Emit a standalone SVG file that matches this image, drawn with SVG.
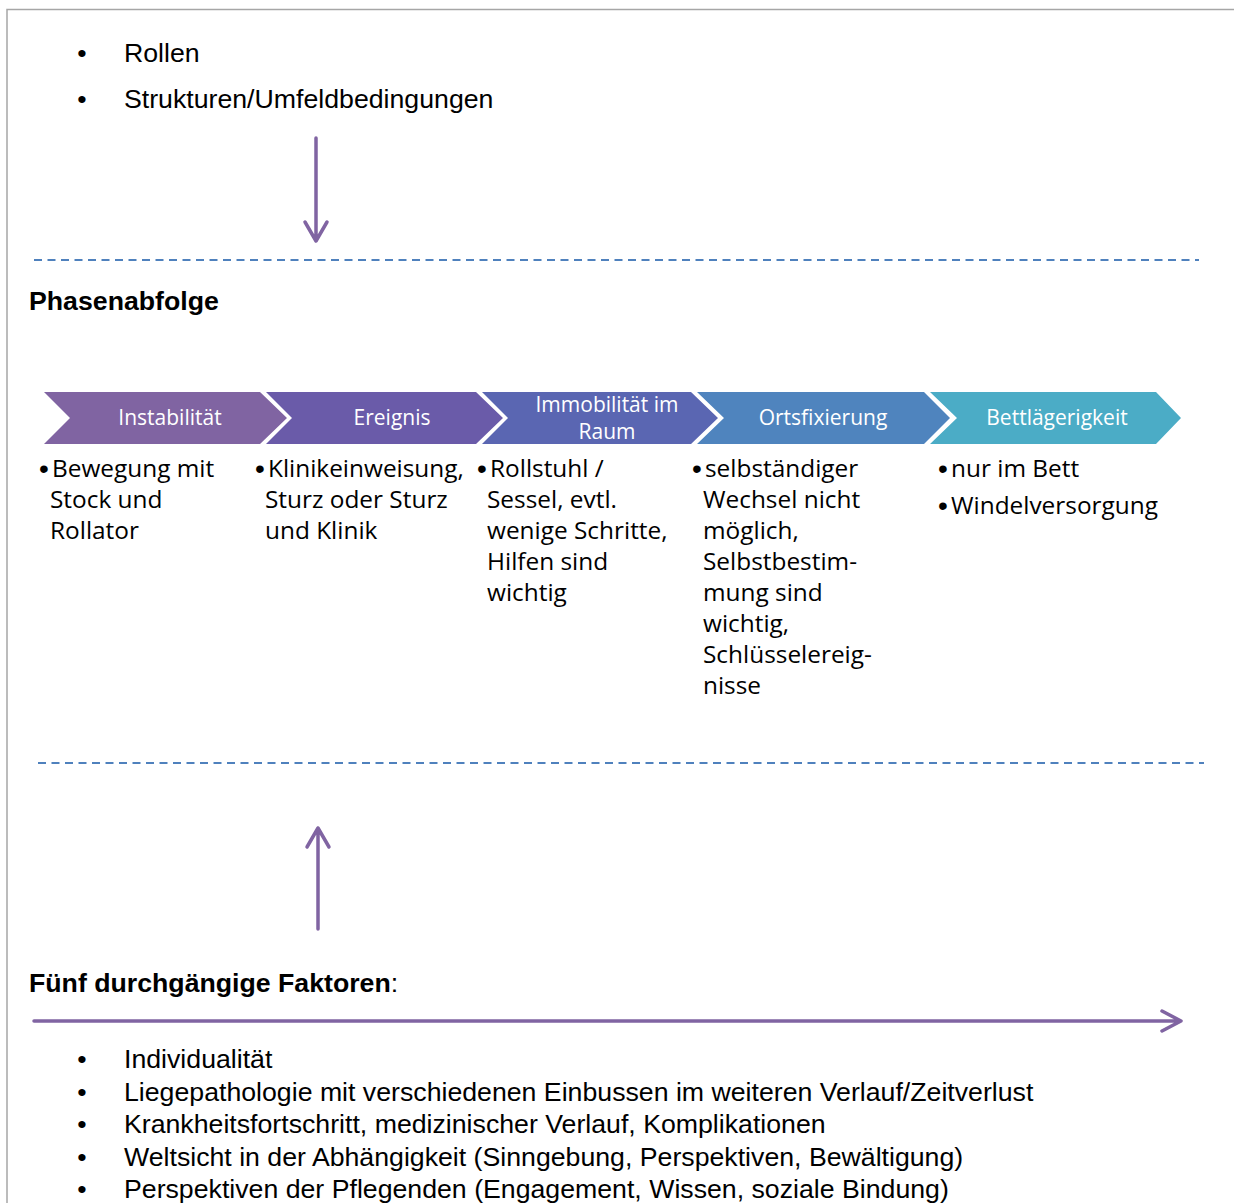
<svg xmlns="http://www.w3.org/2000/svg" width="1234" height="1203" viewBox="0 0 1234 1203">
<defs>
<style>
.ar{font-family:"Liberation Sans",Arial,sans-serif;font-size:26.7px;fill:#000}
.arb{font-family:"Liberation Sans",Arial,sans-serif;font-size:26.7px;font-weight:bold;fill:#000}
.lbl{font-family:"Open Sans","Noto Sans",sans-serif;font-size:21px;fill:#fff;text-anchor:middle}
.body{font-family:"Open Sans","Noto Sans",sans-serif;font-size:24.4px;fill:#000}
.bb{font-family:"Liberation Sans",Arial,sans-serif;font-size:28px;fill:#000;text-anchor:middle}
.dash{stroke:#4F81BD;stroke-width:2;stroke-dasharray:8 5.5;fill:none}
.arrow{stroke:#8064A2;stroke-width:3.5;fill:none;stroke-linecap:round;stroke-linejoin:round}
.bul{text-anchor:middle}
</style>
</defs>
<rect width="1234" height="1203" fill="#fff"/>
<path d="M7,1203 L7,9.5 L1234,9.5" fill="none" stroke="#A6A6A6" stroke-width="1.5"/>

<g id="top-list">
<text class="ar bul" x="82" y="62">•</text>
<text class="ar" x="124" y="62">Rollen</text>
<text class="ar bul" x="82" y="108">•</text>
<text class="ar" x="124" y="108">Strukturen/Umfeldbedingungen</text>
</g>

<g id="heading-phasen">
<text class="arb" x="29" y="310">Phasenabfolge</text>
</g>

<g id="phase1">
<path d="M44,392 L260,392 L287,418 L260,444 L44,444 L70,418 Z" fill="#8064A2"/>
<text class="lbl" x="170" y="425">Instabilität</text>
<text class="bb" x="44" y="478">•</text>
<text class="body" x="52" y="477">Bewegung mit</text>
<text class="body" x="50" y="508">Stock und</text>
<text class="body" x="50" y="539">Rollator</text>
</g>
<g id="phase2">
<path d="M266,392 L476,392 L503,418 L476,444 L266,444 L292,418 Z" fill="#6A5BA9"/>
<text class="lbl" x="392" y="425">Ereignis</text>
<text class="bb" x="260" y="478">•</text>
<text class="body" x="268" y="477">Klinikeinweisung,</text>
<text class="body" x="265" y="508">Sturz oder Sturz</text>
<text class="body" x="265" y="539">und Klinik</text>
</g>
<g id="phase3">
<path d="M482,392 L691,392 L718,418 L691,444 L482,444 L508,418 Z" fill="#5A66B2"/>
<text class="lbl" x="607" y="412">Immobilität im</text>
<text class="lbl" x="607" y="439">Raum</text>
<text class="bb" x="482" y="478">•</text>
<text class="body" x="490" y="477">Rollstuhl /</text>
<text class="body" x="487" y="508">Sessel, evtl.</text>
<text class="body" x="487" y="539">wenige Schritte,</text>
<text class="body" x="487" y="570">Hilfen sind</text>
<text class="body" x="487" y="601">wichtig</text>
</g>
<g id="phase4">
<path d="M697,392 L924,392 L950,418 L924,444 L697,444 L724,418 Z" fill="#4F84BE"/>
<text class="lbl" x="823" y="425">Ortsfixierung</text>
<text class="bb" x="697" y="478">•</text>
<text class="body" x="705" y="477">selbständiger</text>
<text class="body" x="703" y="508">Wechsel nicht</text>
<text class="body" x="703" y="539">möglich,</text>
<text class="body" x="703" y="570">Selbstbestim-</text>
<text class="body" x="703" y="601">mung sind</text>
<text class="body" x="703" y="632">wichtig,</text>
<text class="body" x="703" y="663">Schlüsselereig-</text>
<text class="body" x="703" y="694">nisse</text>
</g>
<g id="phase5">
<path d="M930,392 L1156,392 L1181,418 L1156,444 L930,444 L957,418 Z" fill="#4BACC6"/>
<text class="lbl" x="1057" y="425">Bettlägerigkeit</text>
<text class="bb" x="943" y="478">•</text>
<text class="body" x="951" y="477">nur im Bett</text>
<text class="bb" x="943" y="515">•</text>
<text class="body" x="951" y="514">Windelversorgung</text>
</g>

<g id="heading-faktoren">
<text class="arb" x="29" y="992">Fünf durchgängige Faktoren<tspan class="ar" font-weight="normal">:</tspan></text>
</g>

<g id="bottom-list">
<text class="ar bul" x="82" y="1068">•</text>
<text class="ar" x="124" y="1068">Individualität</text>
<text class="ar bul" x="82" y="1101">•</text>
<text class="ar" x="124" y="1101">Liegepathologie mit verschiedenen Einbussen im weiteren Verlauf/Zeitverlust</text>
<text class="ar bul" x="82" y="1133">•</text>
<text class="ar" x="124" y="1133">Krankheitsfortschritt, medizinischer Verlauf, Komplikationen</text>
<text class="ar bul" x="82" y="1166">•</text>
<text class="ar" x="124" y="1166">Weltsicht in der Abhängigkeit (Sinngebung, Perspektiven, Bewältigung)</text>
<text class="ar bul" x="82" y="1198">•</text>
<text class="ar" x="124" y="1198">Perspektiven der Pflegenden (Engagement, Wissen, soziale Bindung)</text>
</g>

<g id="connectors">
<line class="dash" x1="34" y1="260" x2="1199" y2="260"/>
<line class="dash" x1="38" y1="763" x2="1204" y2="763"/>
<path class="arrow" d="M316,138 L316,241 M305,222 L316,241 L327,222"/>
<path class="arrow" d="M318,929 L318,828 M307,847 L318,828 L329,847"/>
<path class="arrow" d="M34,1021 L1181,1021 M1162,1011 L1181,1021 L1162,1031"/>
</g>
</svg>
